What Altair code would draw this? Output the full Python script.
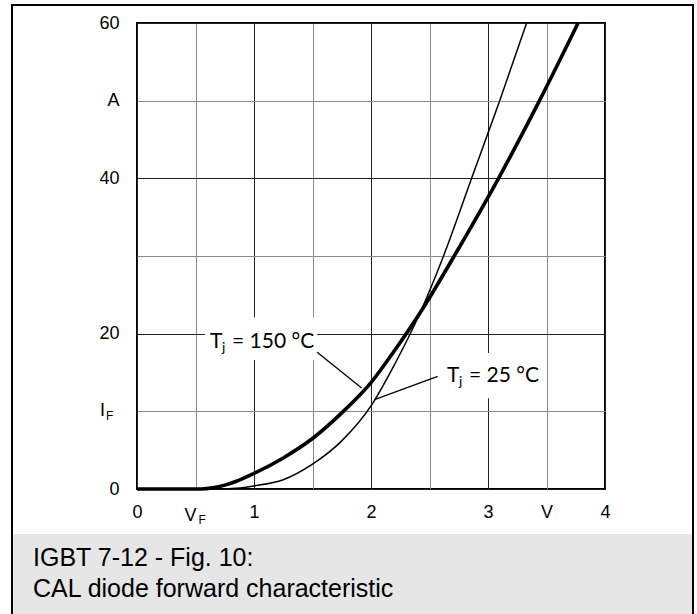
import altair as alt
import pandas as pd

# Tj = 150 °C (thick)
v150 = [0.0, 0.55, 0.65, 0.75, 0.85, 1.0, 1.25, 1.5, 1.75, 2.0, 2.2, 2.42, 2.75, 3.09, 3.44, 3.77]
i150 = [0.0, 0.0, 0.15, 0.5, 1.0, 2.0, 4.0, 6.5, 9.8, 13.7, 17.8, 22.7, 31.0, 40.0, 50.0, 60.0]
# Tj = 25 °C (thin)
v25 = [0.0, 0.7, 0.85, 1.0, 1.25, 1.5, 1.75, 2.0, 2.2, 2.42, 2.62, 2.86, 3.10, 3.33]
i25 = [0.0, 0.0, 0.1, 0.4, 1.2, 3.2, 6.2, 10.7, 16.0, 22.7, 30.0, 40.0, 50.0, 60.0]

x_ticks = [0, 0.5, 1, 1.5, 2, 2.5, 3, 3.5, 4]
y_ticks = [0, 10, 20, 30, 40, 50, 60]

caption_lines = ["IGBT 7-12 - Fig. 10:", "CAL diode forward characteristic"]

# annotation label boxes and leaders (data units)
box_v1 = [0.58, 2.56]
box_v2 = [1.54, 3.49]
box_i1 = [22.1, 17.5]
box_i2 = [16.6, 11.7]
lead_v1 = [1.54, 2.57]
lead_i1 = [17.6, 14.5]
lead_v2 = [1.92, 2.03]
lead_i2 = [13.0, 11.5]
lab_v = [0.624, 2.65]
lab_i = [18.2, 13.8]
lab_rest = ["= 150 °C", "= 25 °C"]

curves = pd.DataFrame({
    "V": v150 + v25,
    "I": i150 + i25,
    "series": ["150"] * len(v150) + ["25"] * len(v25),
    "order": list(range(len(v150))) + list(range(len(v25))),
})
boxes = pd.DataFrame({"v1": box_v1, "v2": box_v2, "i1": box_i1, "i2": box_i2})
leads = pd.DataFrame({"v1": lead_v1, "v2": lead_v2, "i1": lead_i1, "i2": lead_i2})
labels = pd.DataFrame({"V": lab_v, "I": lab_i, "rest": lab_rest})
dummy = pd.DataFrame({"a": [0]})

xscale = alt.Scale(domain=[0, 4], nice=False)
yscale = alt.Scale(domain=[0, 60], nice=False)

FONT = "Liberation Sans"
LFONT = "Lato"

x_axis = alt.Axis(
    values=x_ticks, title=None, ticks=False, domain=False, tickSize=0,
    labelExpr="datum.value == 3.5 ? 'V' : (datum.value % 1 == 0 ? format(datum.value, 'd') : '')",
    labelFont=FONT, labelFontSize=18, labelColor="black", labelPadding=14,
    labelFlush=False, labelOverlap=False,
    gridColor={"condition": {"test": "datum.value % 1 == 0", "value": "#222222"}, "value": "#8a8a8a"},
)
y_axis = alt.Axis(
    values=y_ticks, title=None, ticks=False, domain=False, tickSize=0,
    labelExpr="datum.value == 50 ? 'A' : (datum.value % 20 == 0 ? format(datum.value, 'd') : '')",
    labelFont=FONT, labelFontSize=18, labelColor="black", labelPadding=18,
    labelFlush=False, labelOverlap=False,
    gridColor={"condition": {"test": "datum.value % 20 == 0", "value": "#222222"}, "value": "#8a8a8a"},
)

grid_base = alt.Chart(curves).mark_line(opacity=0).encode(
    x=alt.X("V:Q", scale=xscale, axis=x_axis),
    y=alt.Y("I:Q", scale=yscale, axis=y_axis),
)

caption_bg = alt.Chart(dummy).mark_rect(color="#e6e6e6").encode(
    x=alt.value(-124), x2=alt.value(555), y=alt.value(511), y2=alt.value(591)
)
frame_left = alt.Chart(dummy).mark_rule(color="black", strokeWidth=2).encode(
    x=alt.value(-125), y=alt.value(-18), y2=alt.value(591)
)
frame_right = alt.Chart(dummy).mark_rule(color="black", strokeWidth=2).encode(
    x=alt.value(556), y=alt.value(-18), y2=alt.value(591)
)
frame_top = alt.Chart(dummy).mark_rule(color="black", strokeWidth=2).encode(
    x=alt.value(-126), x2=alt.value(557), y=alt.value(-18)
)
cap1 = alt.Chart(dummy).mark_text(align="left", baseline="alphabetic", font=FONT, fontSize=25, color="black").encode(
    x=alt.value(-104), y=alt.value(543), text=alt.value(caption_lines[0])
)
cap2 = alt.Chart(dummy).mark_text(align="left", baseline="alphabetic", font=FONT, fontSize=25, color="black").encode(
    x=alt.value(-104), y=alt.value(574), text=alt.value(caption_lines[1])
)

boxes_l = alt.Chart(boxes).mark_rect(color="white").encode(
    x=alt.X("v1:Q", scale=xscale), x2="v2:Q",
    y=alt.Y("i1:Q", scale=yscale), y2="i2:Q",
)
leads_l = alt.Chart(leads).mark_rule(color="black", strokeWidth=1.3).encode(
    x=alt.X("v1:Q", scale=xscale), x2="v2:Q",
    y=alt.Y("i1:Q", scale=yscale), y2="i2:Q",
)

lines = alt.Chart(curves).mark_line(color="black", interpolate="monotone").encode(
    x=alt.X("V:Q", scale=xscale),
    y=alt.Y("I:Q", scale=yscale),
    detail="series:N",
    order="order:Q",
    strokeWidth=alt.StrokeWidth("series:N", scale=alt.Scale(domain=["150", "25"], range=[3.6, 1.5]), legend=None),
)

t_big = alt.Chart(labels).mark_text(align="left", baseline="alphabetic", font=LFONT, fontSize=21, color="black").encode(
    x=alt.X("V:Q", scale=xscale), y=alt.Y("I:Q", scale=yscale), text=alt.value("T")
)
t_sub = alt.Chart(labels).mark_text(align="left", baseline="alphabetic", font=LFONT, fontSize=14, color="black", dx=12, dy=4).encode(
    x=alt.X("V:Q", scale=xscale), y=alt.Y("I:Q", scale=yscale), text=alt.value("j")
)
t_rest = alt.Chart(labels).mark_text(align="left", baseline="alphabetic", font=LFONT, fontSize=21, color="black", dx=22).encode(
    x=alt.X("V:Q", scale=xscale), y=alt.Y("I:Q", scale=yscale), text="rest:N"
)

# subscripted tick labels V_F and I_F
vf_v = alt.Chart(dummy).mark_text(align="center", baseline="alphabetic", font=FONT, fontSize=18, color="black", dx=-5).encode(
    x=alt.datum(0.5, scale=xscale), y=alt.value(498), text=alt.value("V")
)
vf_f = alt.Chart(dummy).mark_text(align="left", baseline="alphabetic", font=FONT, fontSize=12, color="black", dx=3).encode(
    x=alt.datum(0.5, scale=xscale), y=alt.value(501), text=alt.value("F")
)
if_i = alt.Chart(dummy).mark_text(align="right", baseline="middle", font=FONT, fontSize=18, color="black").encode(
    x=alt.value(-32), y=alt.datum(10, scale=yscale), text=alt.value("I")
)
if_f = alt.Chart(dummy).mark_text(align="left", baseline="middle", font=FONT, fontSize=12, color="black", dy=5).encode(
    x=alt.value(-31), y=alt.datum(10, scale=yscale), text=alt.value("F")
)

chart = alt.layer(
    caption_bg, frame_left, frame_right, frame_top, cap1, cap2,
    grid_base, boxes_l, leads_l, lines, t_big, t_sub, t_rest,
    vf_v, vf_f, if_i, if_f,
).properties(
    width=468, height=466,
    padding={"left": 137, "top": 23, "right": 92, "bottom": 125},
    autosize="none",
    background="white",
).configure_view(stroke="black", strokeWidth=2)

chart.save("out.html", embed_options={"renderer": "svg", "actions": False})
